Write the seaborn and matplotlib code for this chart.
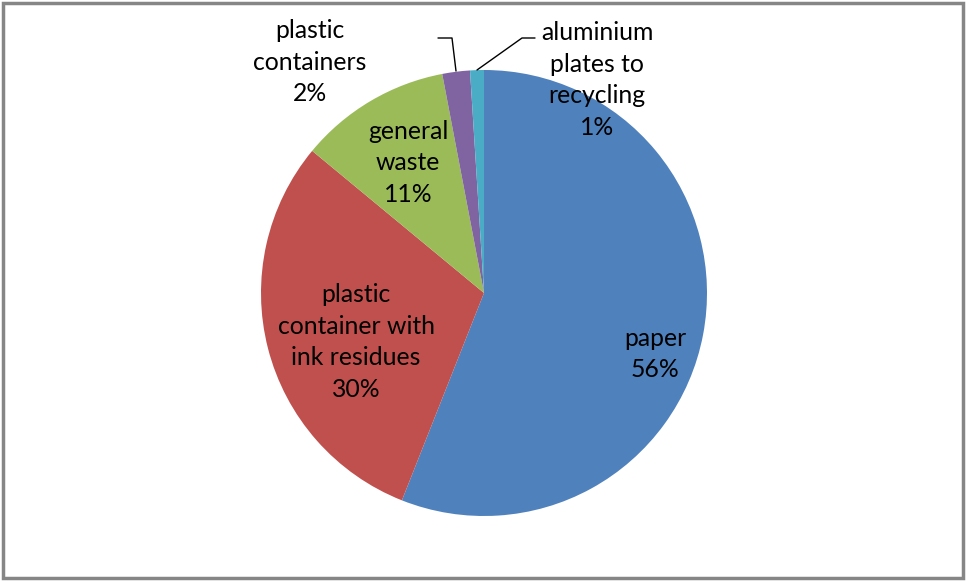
import matplotlib
matplotlib.use("Agg")
import matplotlib.pyplot as plt
import seaborn as sns
from matplotlib.patches import Rectangle

categories = ["paper", "plastic container with ink residues", "general waste",
              "plastic containers", "aluminium plates to recycling"]
values = [56, 30, 11, 2, 1]
label_texts = ["paper\n56%", "plastic\ncontainer with\nink residues\n30%",
               "general\nwaste\n11%", "plastic\ncontainers\n2%",
               "aluminium\nplates to\nrecycling\n1%"]
colors = ["#4F81BD", "#C0504D", "#9BBB59", "#8064A2", "#4BACC6"]

sns.set_theme(style="white")
plt.rcParams['font.family'] = ['Lato', 'DejaVu Sans']
palette = sns.color_palette(colors)

W, H = 966, 581
fig = plt.figure(figsize=(W / 100, H / 100), dpi=100)
ax = fig.add_axes([0, 0, 1, 1])

cx, cy, r = 484, H - 293, 223
ax.pie(values, colors=palette, startangle=90, counterclock=False,
       center=(cx, cy), radius=r, frame=True,
       wedgeprops=dict(linewidth=0))
ax.set_xlim(0, W)
ax.set_ylim(0, H)
ax.axis("off")

label_pos = [(655, 354), (356, 342), (408, 163), (310, 62), (597, 80)]
for txt, (x, y) in zip(label_texts, label_pos):
    ax.text(x, H - y, txt, ha="center", va="center", fontsize=17.8,
            color="#000000", linespacing=1.44)

# leader lines
ax.plot([438, 452, 456], [H - 38, H - 38, H - 71], color="black", lw=1)
ax.plot([535, 522, 477], [H - 38, H - 38, H - 70], color="black", lw=1)

fig.patches.append(Rectangle((3, 3), W - 6, H - 6, transform=None,
                             fill=False, edgecolor="#868686", linewidth=2.5))

fig.savefig("out.png", dpi=100)
